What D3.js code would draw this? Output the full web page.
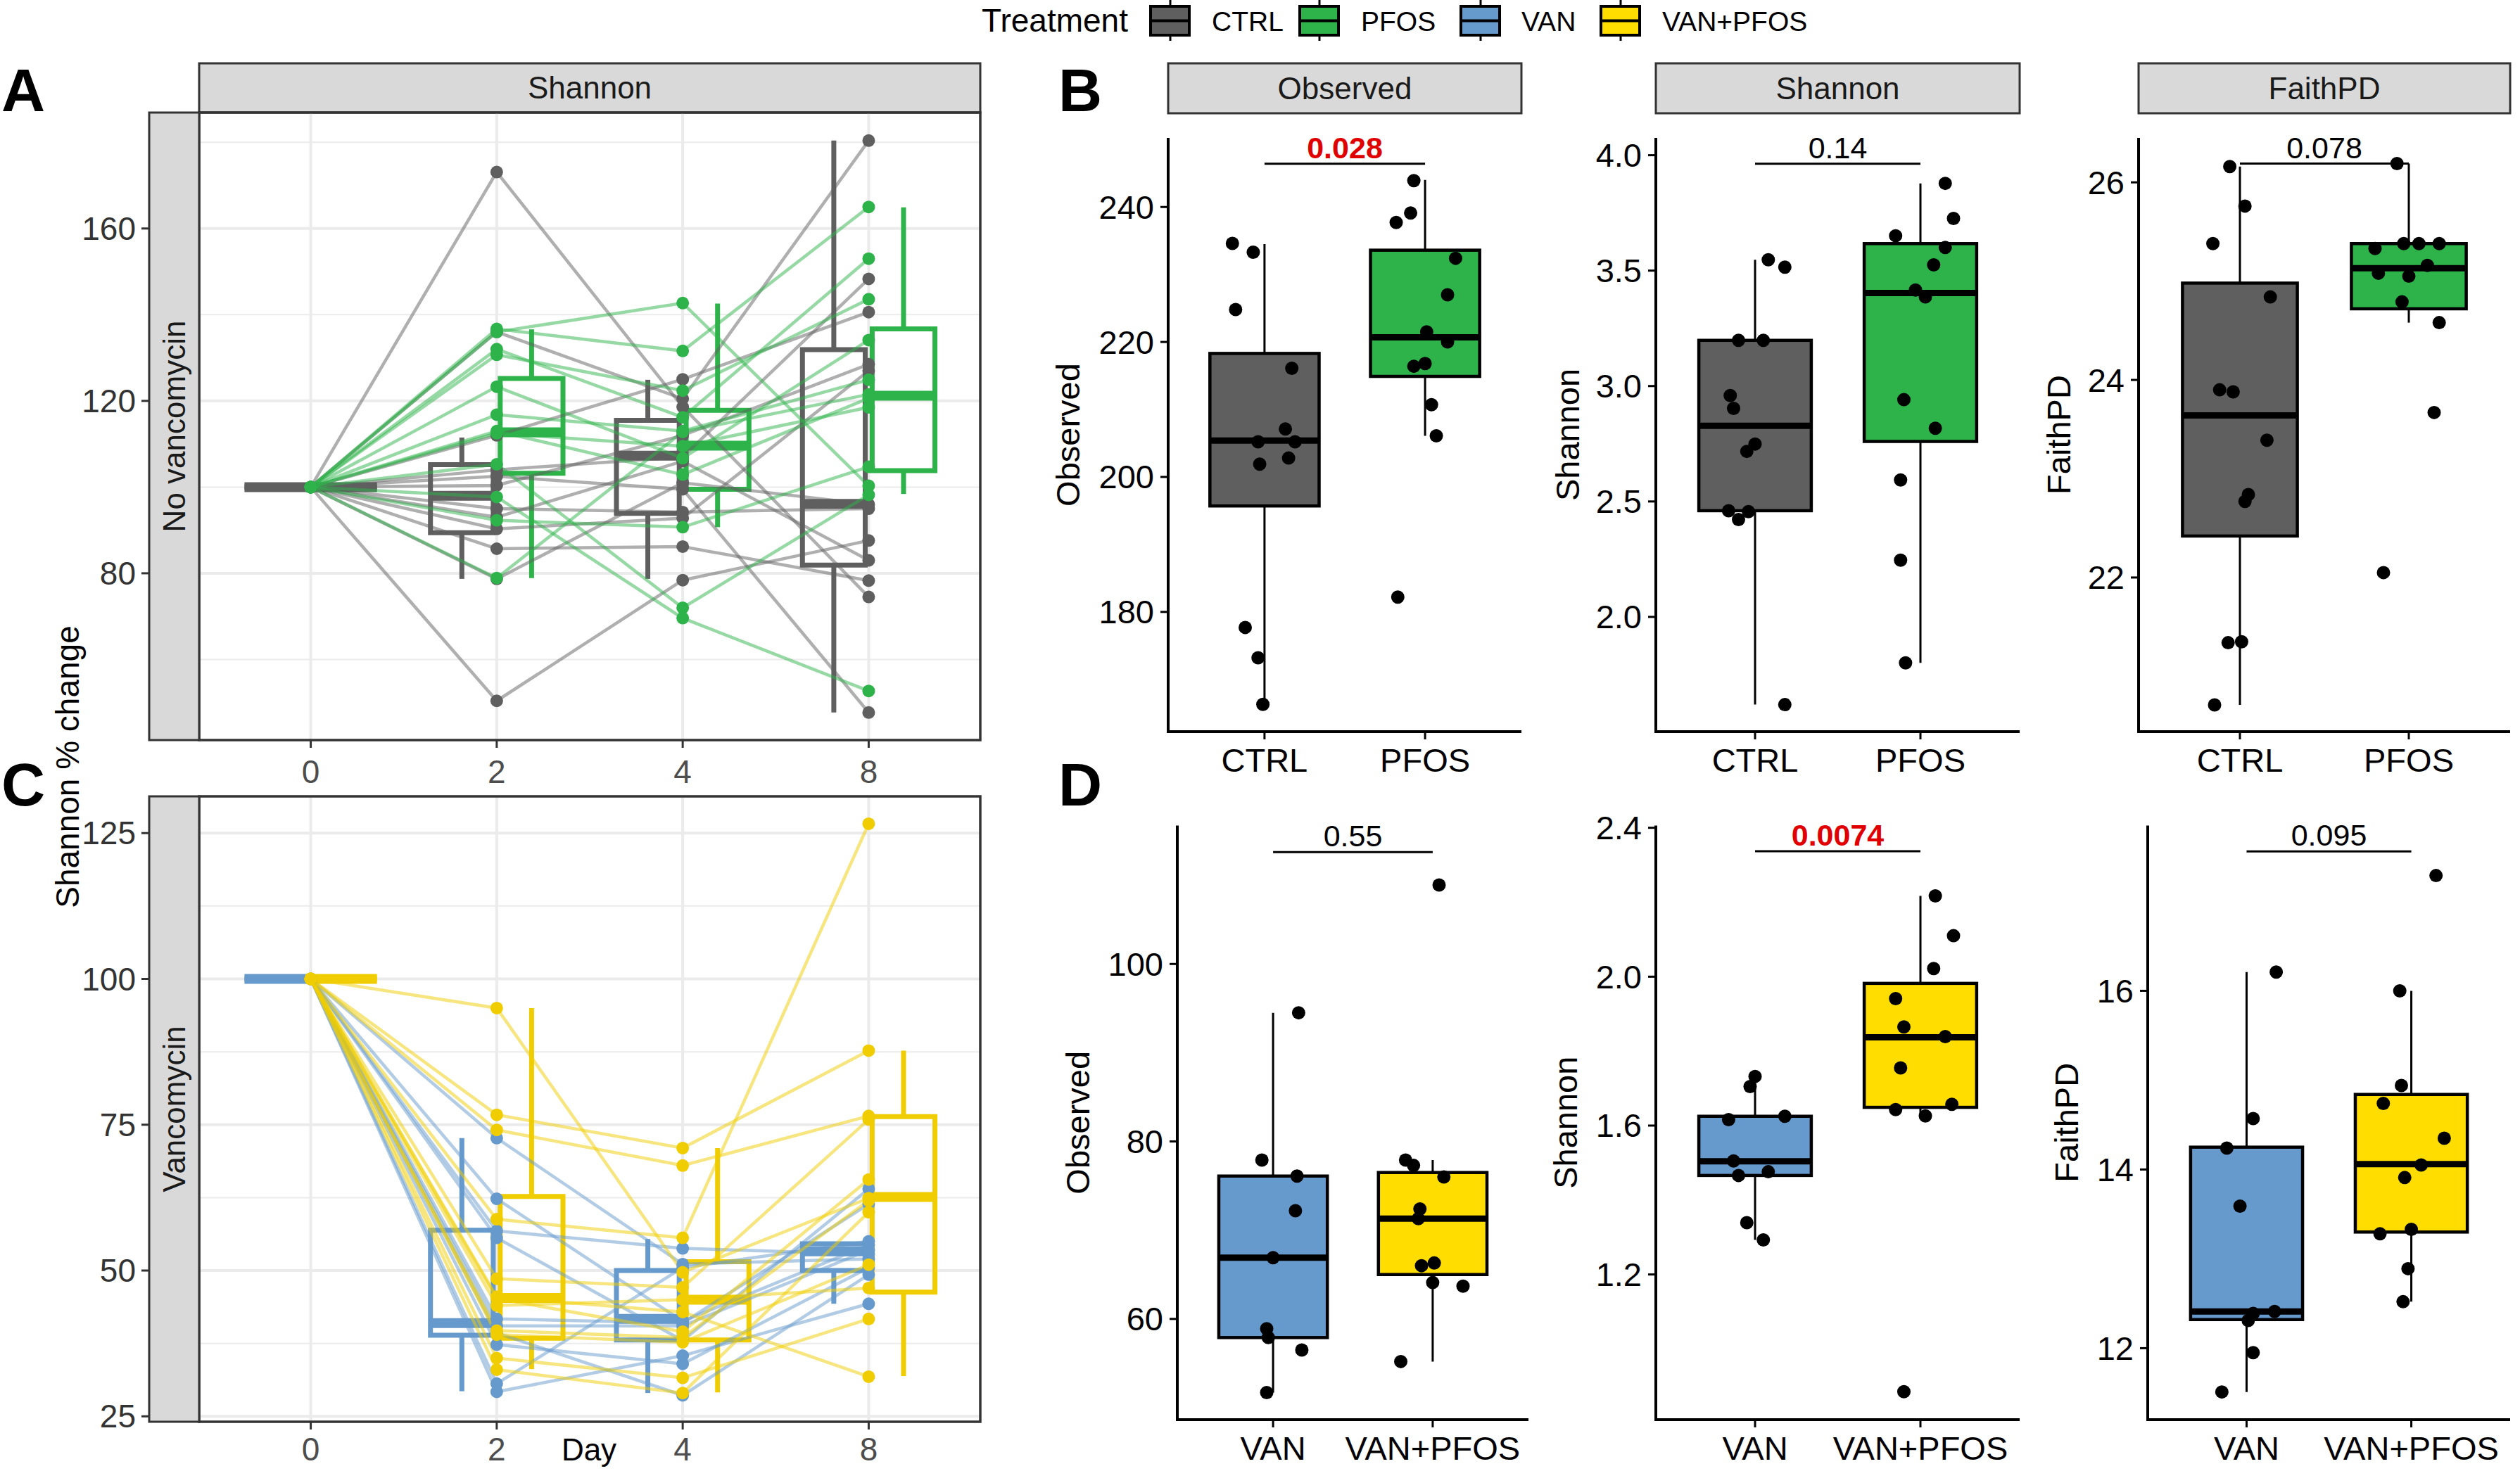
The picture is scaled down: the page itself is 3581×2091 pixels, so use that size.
<!DOCTYPE html>
<html><head><meta charset="utf-8">
<script src="https://cdn.jsdelivr.net/npm/d3@7"></script>
<style>body{margin:0;background:#fff}svg{display:block}</style>
</head><body>
<svg id="c" width="3581" height="2091"></svg>
<script>
// ---------------- DATA ----------------
const days = ["0","2","4","8"];
const treatments = ["CTRL","PFOS","VAN","VAN+PFOS"];
// Panel A: Shannon % change per mouse (day 0,2,4,8)
const ctrlA = [
 [100,173.1,118.6,74.5],[100,50.4,78.4,87.6],[100,136.0,120.5,180.4],[100,112.0,125.0,140.6],
 [100,104.0,107.0,148.3],[100,102.5,99.5,47.7],[100,100.4,112.0,128.5],[100,95.0,94.2,95.0],
 [100,93.0,106.0,83.0],[100,90.3,92.8,127.0],[100,85.7,86.2,78.3],[100,78.7,101.0,96.0]];
const pfosA = [
 [100,136.7,131.6,165.0],[100,136.0,142.7,100.3],[100,132.0,116.2,153.0],[100,130.7,122.4,143.6],
 [100,123.3,106.7,134.1],[100,116.8,113.0,124.9],[100,113.0,102.9,120.6],[100,112.5,109.5,118.5],
 [100,105.3,72.0,98.2],[100,97.7,69.6,52.7],[100,92.3,90.7,104.7],[100,78.9,112.8,121.5]];
// box stats [lower whisker, Q1, median, Q3, upper whisker] per day
const ctrlABox = [[100,100,100,100,100],[78.7,89.4,98.0,105.2,111.5],[78.7,93.9,107.3,115.5,124.9],[47.7,81.9,96.1,131.9,180.4]];
const pfosABox = [[100,100,100,100,100],[78.9,103.2,112.7,125.2,136.6],[90.7,99.5,109.6,117.8,142.6],[98.4,103.8,121.2,136.7,164.9]];
// Panel C
const vanC = [
 [100,72.7,51.1,52.0],[100,62.3,41.3,54.4],[100,56.8,53.8,52.8],[100,55.6,38.0,64.0],
 [100,41.7,41.0,61.4],[100,40.5,40.5,53.5],[100,39.3,28.6,49.3],[100,37.3,34.0,50.5],
 [100,30.6,50.5,55.0],[100,29.2,35.4,44.3]];
const vpC = [
 [100,95.0,49.7,62.4],[100,76.7,71.0,87.7],[100,74.1,68.0,76.5],[100,58.8,55.6,126.6],
 [100,48.6,47.1,75.9],[100,45.5,42.9,31.8],[100,45.2,39.5,65.6],[100,39.7,38.5,62.0],
 [100,39.0,37.7,51.0],[100,35.0,31.6,41.7],[100,33.0,29.0,60.0],[100,44.0,45.0,47.0]];
const vanCBox = [[100,100,100,100,100],[29.3,38.9,41.0,56.9,72.7],[29.0,38.1,41.7,50.0,55.4],[44.3,50.0,53.3,54.6,54.6]];
const vpCBox  = [[100,100,100,100,100],[33.1,38.4,45.3,62.7,95.0],[29.1,38.1,45.0,51.5,71.0],[31.9,46.3,62.6,76.4,87.7]];
const ticksA = [80,120,160], minorA = [60,100,140,180];
const ticksC = [25,50,75,100,125], minorC = [37.5,62.5,87.5,112.5];

// Panel B (CTRL vs PFOS) values and jitter offsets (in category units)
const obsB_ctrl = [234.6,233.3,224.8,216.1,207.1,205.2,205.2,201.9,202.8,177.7,173.2,166.3];
const obsB_ctrl_jit = [-0.20,-0.07,-0.18,0.17,0.13,-0.04,0.19,-0.03,0.15,-0.12,-0.04,-0.01];
const obsB_pfos = [243.9,239.1,237.7,232.4,227.0,221.5,220.0,216.4,216.8,210.7,206.1,182.2];
const obsB_pfos_jit = [-0.07,-0.09,-0.18,0.19,0.14,0.01,0.14,-0.07,0.0,0.04,0.07,-0.17];
const shaB_ctrl = [3.547,3.515,3.198,3.198,2.959,2.903,2.749,2.717,2.460,2.456,2.422,1.620];
const shaB_ctrl_jit = [0.08,0.18,-0.10,0.05,-0.15,-0.13,0,-0.05,-0.16,-0.04,-0.10,0.18];
const shaB_pfos = [3.878,3.726,3.651,3.600,3.525,3.416,3.386,2.941,2.817,2.593,2.246,1.801];
const shaB_pfos_jit = [0.15,0.20,-0.15,0.15,0.08,-0.03,0.03,-0.10,0.09,-0.12,-0.12,-0.09];
const faiB_ctrl = [26.16,25.76,25.38,24.84,23.90,23.88,23.39,22.84,22.77,21.34,21.35,20.71];
const faiB_ctrl_jit = [-0.06,0.03,-0.16,0.18,-0.12,-0.04,0.16,0.05,0.03,-0.07,0.01,-0.15];
const faiB_pfos = [26.19,25.33,25.38,25.38,25.38,25.08,25.16,25.05,24.79,24.58,23.67,22.05];
const faiB_pfos_jit = [-0.07,-0.20,-0.03,0.06,0.18,-0.18,0.11,0,-0.04,0.18,0.15,-0.15];
const obsB_box = [[166.3,195.7,205.4,218.3,234.5],[206.1,214.9,220.7,233.6,244.0]];
const shaB_box = [[1.620,2.460,2.828,3.198,3.547],[1.801,2.760,3.403,3.617,3.878]];
const faiB_box = [[20.71,22.42,23.64,24.98,26.16],[24.58,24.72,25.13,25.38,26.19]];
// Panel D (VAN vs VAN+PFOS)
const obsD_van = [94.5,77.9,76.1,72.2,66.9,58.9,57.9,56.5,51.7];
const obsD_van_jit = [0.16,-0.07,0.15,0.14,0,-0.04,-0.03,0.18,-0.04];
const obsD_vp = [108.9,77.9,77.3,76.0,72.4,71.3,66.0,66.3,64.1,63.7,55.2];
const obsD_vp_jit = [0.04,-0.17,-0.12,0.07,-0.08,-0.09,-0.07,0.01,0,0.19,-0.2];
const shaD_van = [1.732,1.705,1.616,1.625,1.505,1.476,1.466,1.339,1.293];
const shaD_van_jit = [0,-0.03,-0.16,0.18,-0.13,0.08,-0.10,-0.05,0.05];
const shaD_vp = [2.217,2.110,2.022,1.941,1.865,1.839,1.755,1.643,1.657,1.626,0.885];
const shaD_vp_jit = [0.09,0.2,0.08,-0.15,-0.10,0.15,-0.12,-0.15,0.19,0.03,-0.10];
const faiD_van = [16.21,14.57,14.24,13.59,12.41,12.39,12.31,11.95,11.51];
const faiD_van_jit = [0.18,0.04,-0.12,-0.04,0.17,0.04,0.01,0.04,-0.15];
const faiD_vp = [17.29,16.00,14.94,14.74,14.35,14.05,13.91,13.28,13.33,12.89,12.52];
const faiD_vp_jit = [0.15,-0.07,-0.06,-0.17,0.2,0.06,-0.04,-0.19,0,-0.02,-0.05];
const obsD_box = [[51.7,57.9,66.9,76.1,94.5],[55.2,65.0,71.3,76.5,77.9]];
const shaD_box = [[1.293,1.466,1.504,1.625,1.732],[1.626,1.649,1.837,1.982,2.217]];
const faiD_box = [[11.51,12.32,12.41,14.25,16.21],[12.52,13.30,14.06,14.84,16.00]];
const pvalsB = ["0.028","0.14","0.078"];
const pvalsD = ["0.55","0.0074","0.095"];
const bracketB = [246.4,3.963,26.19];
const bracketD = [112.6,2.337,17.56];

// ---------------- STYLE ----------------
const FONT = "'Liberation Sans', Arial, Helvetica, sans-serif";
const COL = {CTRL:"#5f5f5f", PFOS:"#2db34a", VAN:"#6699cc", "VAN+PFOS":"#ffdd00"};
const LINECOL = {CTRL:"#5f5f5f", PFOS:"#2db34a", VAN:"#6699cc", "VAN+PFOS":"#f0cd00"};
const svg = d3.select("#c").style("font-family", FONT);
svg.append("rect").attr("width",3581).attr("height",2091).attr("fill","#fff");

function txt(g, x, y, s, size, opts={}) {
  const t = g.append("text").attr("x",x).attr("y",y).text(s)
    .attr("font-size",size).attr("fill",opts.fill||"#000")
    .attr("text-anchor",opts.anchor||"start");
  if (opts.bold) t.attr("font-weight","bold");
  if (opts.dy) t.attr("dy",opts.dy);
  if (opts.rot) t.attr("transform",`rotate(-90,${x},${y})`);
  return t;
}

// ---------------- TRAJECTORY PANELS (A, C) ----------------
function trajPanel(cfg) {
  const {x0,x1,y0,y1,domain,ticks,minor,groups,rowLabel,labY} = cfg;
  const g = svg.append("g");
  const x = d3.scalePoint().domain(days).range([x0,x1]).padding(0.6);
  const step = x.step();
  const y = d3.scaleLinear().domain(domain).range([y1,y0]);
  // grid
  g.selectAll(null).data(minor).join("line").attr("x1",x0).attr("x2",x1)
    .attr("y1",d=>y(d)).attr("y2",d=>y(d)).attr("stroke","#ebebeb").attr("stroke-width",2);
  g.selectAll(null).data(ticks).join("line").attr("x1",x0).attr("x2",x1)
    .attr("y1",d=>y(d)).attr("y2",d=>y(d)).attr("stroke","#ebebeb").attr("stroke-width",4);
  g.selectAll(null).data(days).join("line").attr("y1",y0).attr("y2",y1)
    .attr("x1",d=>x(d)).attr("x2",d=>x(d)).attr("stroke","#ebebeb").attr("stroke-width",4);
  // boxes
  const bw = 0.3375*step;
  groups.forEach((grp,gi) => {
    const off = (gi===0?-1:1)*0.1875*step;
    grp.box.forEach((s,di) => {
      const cx = x(days[di]) + off;
      const col = (di===0 && grp.day0Col) ? grp.day0Col : grp.col;
      const bg = g.append("g").attr("stroke",col).attr("fill","none");
      bg.append("line").attr("x1",cx).attr("x2",cx).attr("y1",y(s[4])).attr("y2",y(s[3])).attr("stroke-width",7);
      bg.append("line").attr("x1",cx).attr("x2",cx).attr("y1",y(s[1])).attr("y2",y(s[0])).attr("stroke-width",7);
      bg.append("path").attr("d",`M${cx-bw/2},${y(s[3])}H${cx+bw/2}V${y(s[1])}H${cx-bw/2}Z`).attr("stroke-width",7);
      bg.append("line").attr("x1",cx-bw/2).attr("x2",cx+bw/2).attr("y1",y(s[2])).attr("y2",y(s[2])).attr("stroke-width",14);
    });
  });
  // lines
  const line = d3.line().x((d,i)=>x(days[i])).y(d=>y(d));
  groups.forEach(grp => {
    g.append("g").selectAll(null).data(grp.mice).join("path").attr("d",line)
      .attr("fill","none").attr("stroke",grp.lcol).attr("stroke-opacity",0.5).attr("stroke-width",4.5);
  });
  // points
  groups.forEach(grp => {
    const pts = grp.mice.flatMap(m => m.map((v,i)=>({d:days[i],v})));
    g.append("g").selectAll(null).data(pts).join("circle")
      .attr("cx",p=>x(p.d)).attr("cy",p=>y(p.v)).attr("r",9).attr("fill",grp.lcol);
  });
  // border
  g.append("rect").attr("x",x0).attr("y",y0).attr("width",x1-x0).attr("height",y1-y0)
    .attr("fill","none").attr("stroke","#333").attr("stroke-width",3.5);
  // row strip
  g.append("rect").attr("x",212).attr("y",y0).attr("width",x0-212).attr("height",y1-y0)
    .attr("fill","#d9d9d9").attr("stroke","#333").attr("stroke-width",3);
  txt(g,(212+x0)/2,(y0+y1)/2,rowLabel,44,{anchor:"middle",dy:"0.35em",rot:true,fill:"#1a1a1a"});
  // y ticks
  g.selectAll(null).data(ticks).join("line").attr("x1",201).attr("x2",212)
    .attr("y1",d=>y(d)).attr("y2",d=>y(d)).attr("stroke","#333").attr("stroke-width",3);
  ticks.forEach(t => txt(g,193,y(t),String(t),46,{anchor:"end",dy:"0.35em",fill:"#333"}));
  // x ticks
  g.selectAll(null).data(days).join("line").attr("x1",d=>x(d)).attr("x2",d=>x(d))
    .attr("y1",y1).attr("y2",y1+11).attr("stroke","#333").attr("stroke-width",3);
  days.forEach(d => txt(g,x(d),labY,d,46,{anchor:"middle",fill:"#4d4d4d"}));
}

// top strip A
svg.append("rect").attr("x",283).attr("y",90).attr("width",1110).attr("height",70)
  .attr("fill","#d9d9d9").attr("stroke","#333").attr("stroke-width",3);
txt(svg,838,125,"Shannon",44,{anchor:"middle",dy:"0.35em",fill:"#1a1a1a"});

trajPanel({x0:283,x1:1393,y0:160,y1:1052,domain:[41.3,186.9],ticks:ticksA,minor:minorA,
  rowLabel:"No vancomycin",labY:1113,
  groups:[{col:COL.CTRL,lcol:LINECOL.CTRL,mice:ctrlA,box:ctrlABox},
          {col:COL.PFOS,lcol:LINECOL.PFOS,mice:pfosA,box:pfosABox,day0Col:COL.CTRL}]});
trajPanel({x0:283,x1:1393,y0:1132,y1:2021,domain:[24.07,131.3],ticks:ticksC,minor:minorC,
  rowLabel:"Vancomycin",labY:2076,
  groups:[{col:LINECOL.VAN,lcol:LINECOL.VAN,mice:vanC,box:vanCBox},
          {col:LINECOL["VAN+PFOS"],lcol:LINECOL["VAN+PFOS"],mice:vpC,box:vpCBox}]});
txt(svg,96,1090,"Shannon % change",46,{anchor:"middle",dy:"0.35em",rot:true});
txt(svg,837,2076,"Day",44,{anchor:"middle"});

// ---------------- BOX PANELS (B, D) ----------------
function boxPanel(cfg) {
  const {x0,x1,y0,y1,domain,ticks,fmt,cats,groups,box,bracket,pval,title,titleX} = cfg;
  const g = svg.append("g");
  const x = d3.scalePoint().domain(cats).range([x0,x1]).padding(0.6);
  const step = x.step();
  const y = d3.scaleLinear().domain(domain).range([y1,y0]);
  const bw = 0.68*step;
  cats.forEach((c,ci) => {
    const s = box[ci], cx = x(c);
    g.append("line").attr("x1",cx).attr("x2",cx).attr("y1",y(s[4])).attr("y2",y(s[0]))
      .attr("stroke","#000").attr("stroke-width",3);
    g.append("rect").attr("x",cx-bw/2).attr("y",y(s[3])).attr("width",bw).attr("height",y(s[1])-y(s[3]))
      .attr("fill",COL[c]).attr("stroke","#000").attr("stroke-width",4.5);
    g.append("line").attr("x1",cx-bw/2).attr("x2",cx+bw/2).attr("y1",y(s[2])).attr("y2",y(s[2]))
      .attr("stroke","#000").attr("stroke-width",9);
  });
  cats.forEach((c,ci) => {
    const vals = groups[ci][0], jit = groups[ci][1];
    g.append("g").selectAll(null).data(vals).join("circle")
      .attr("cx",(v,i)=>x(c)+jit[i]*step).attr("cy",v=>y(v)).attr("r",9.5).attr("fill","#000");
  });
  // axes
  g.append("line").attr("x1",x0).attr("x2",x0).attr("y1",y0).attr("y2",y1+2).attr("stroke","#000").attr("stroke-width",4);
  g.append("line").attr("x1",x0-2).attr("x2",x1).attr("y1",y1).attr("y2",y1).attr("stroke","#000").attr("stroke-width",4);
  g.selectAll(null).data(ticks).join("line").attr("x1",x0-11).attr("x2",x0)
    .attr("y1",d=>y(d)).attr("y2",d=>y(d)).attr("stroke","#000").attr("stroke-width",3);
  ticks.forEach(t => txt(g,x0-20,y(t),fmt(t),47,{anchor:"end",dy:"0.35em"}));
  g.selectAll(null).data(cats).join("line").attr("x1",d=>x(d)).attr("x2",d=>x(d))
    .attr("y1",y1).attr("y2",y1+11).attr("stroke","#000").attr("stroke-width",3);
  cats.forEach(c => txt(g,x(c),y1+57,c,47,{anchor:"middle"}));
  // bracket
  const by = y(bracket);
  g.append("line").attr("x1",x(cats[0])).attr("x2",x(cats[1])).attr("y1",by).attr("y2",by)
    .attr("stroke","#000").attr("stroke-width",3);
  const sig = parseFloat(pval) < 0.05;
  txt(g,(x(cats[0])+x(cats[1]))/2,by-8,pval,43,{anchor:"middle",fill:sig?"#e00000":"#000",bold:sig});
  txt(g,titleX,(y0+y1)/2,title,47,{anchor:"middle",dy:"0.35em",rot:true});
}
const f0 = d3.format("d"), f1 = d3.format(".1f");
const stripB = [[1660,2162,"Observed"],[2353,2870,"Shannon"],[3039,3567,"FaithPD"]];
stripB.forEach(s => {
  svg.append("rect").attr("x",s[0]).attr("y",90).attr("width",s[1]-s[0]).attr("height",71)
    .attr("fill","#d9d9d9").attr("stroke","#333").attr("stroke-width",3);
  txt(svg,(s[0]+s[1])/2,125.5,s[2],44,{anchor:"middle",dy:"0.35em",fill:"#1a1a1a"});
});
const catsB = ["CTRL","PFOS"], catsD = ["VAN","VAN+PFOS"];
boxPanel({x0:1660,x1:2162,y0:196,y1:1040,domain:[162.26,250.24],ticks:[180,200,220,240],fmt:f0,
  cats:catsB,groups:[[obsB_ctrl,obsB_ctrl_jit],[obsB_pfos,obsB_pfos_jit]],box:obsB_box,
  bracket:bracketB[0],pval:pvalsB[0],title:"Observed",titleX:1518});
boxPanel({x0:2353,x1:2870,y0:196,y1:1040,domain:[1.503,4.075],ticks:[2.0,2.5,3.0,3.5,4.0],fmt:f1,
  cats:catsB,groups:[[shaB_ctrl,shaB_ctrl_jit],[shaB_pfos,shaB_pfos_jit]],box:shaB_box,
  bracket:bracketB[1],pval:pvalsB[1],title:"Shannon",titleX:2228});
boxPanel({x0:3039,x1:3567,y0:196,y1:1040,domain:[20.44,26.45],ticks:[22,24,26],fmt:f0,
  cats:catsB,groups:[[faiB_ctrl,faiB_ctrl_jit],[faiB_pfos,faiB_pfos_jit]],box:faiB_box,
  bracket:bracketB[2],pval:pvalsB[2],title:"FaithPD",titleX:2926});
boxPanel({x0:1673,x1:2172,y0:1173.5,y1:2018,domain:[48.65,115.6],ticks:[60,80,100],fmt:f0,
  cats:catsD,groups:[[obsD_van,obsD_van_jit],[obsD_vp,obsD_vp_jit]],box:obsD_box,
  bracket:bracketD[0],pval:pvalsD[0],title:"Observed",titleX:1532});
boxPanel({x0:2353,x1:2870,y0:1173.5,y1:2018,domain:[0.81,2.406],ticks:[1.2,1.6,2.0,2.4],fmt:f1,
  cats:catsD,groups:[[shaD_van,shaD_van_jit],[shaD_vp,shaD_vp_jit]],box:shaD_box,
  bracket:bracketD[1],pval:pvalsD[1],title:"Shannon",titleX:2225});
boxPanel({x0:3052,x1:3567,y0:1173.5,y1:2018,domain:[11.20,17.85],ticks:[12,14,16],fmt:f0,
  cats:catsD,groups:[[faiD_van,faiD_van_jit],[faiD_vp,faiD_vp_jit]],box:faiD_box,
  bracket:bracketD[2],pval:pvalsD[2],title:"FaithPD",titleX:2937});

// panel letters
txt(svg,2,158,"A",86,{bold:true});
txt(svg,1504,158,"B",86,{bold:true});
txt(svg,2,1145,"C",86,{bold:true});
txt(svg,1504,1145,"D",86,{bold:true});

// ---------------- LEGEND ----------------
const lg = svg.append("g");
txt(lg,1395,45,"Treatment",46);
const keyX = [1635,1847,2076,2275], labX = [1722,1934,2162,2362];
treatments.forEach((t,i) => {
  const cx = keyX[i] + 28;
  lg.append("line").attr("x1",cx).attr("x2",cx).attr("y1",0).attr("y2",58).attr("stroke","#000").attr("stroke-width",3);
  lg.append("rect").attr("x",keyX[i]).attr("y",9).attr("width",55).attr("height",41)
    .attr("fill",COL[t]).attr("stroke","#000").attr("stroke-width",4);
  lg.append("line").attr("x1",keyX[i]).attr("x2",keyX[i]+55).attr("y1",29.5).attr("y2",29.5).attr("stroke","#000").attr("stroke-width",4);
  txt(lg,labX[i],44,t,39);
});
</script>
</body></html>
